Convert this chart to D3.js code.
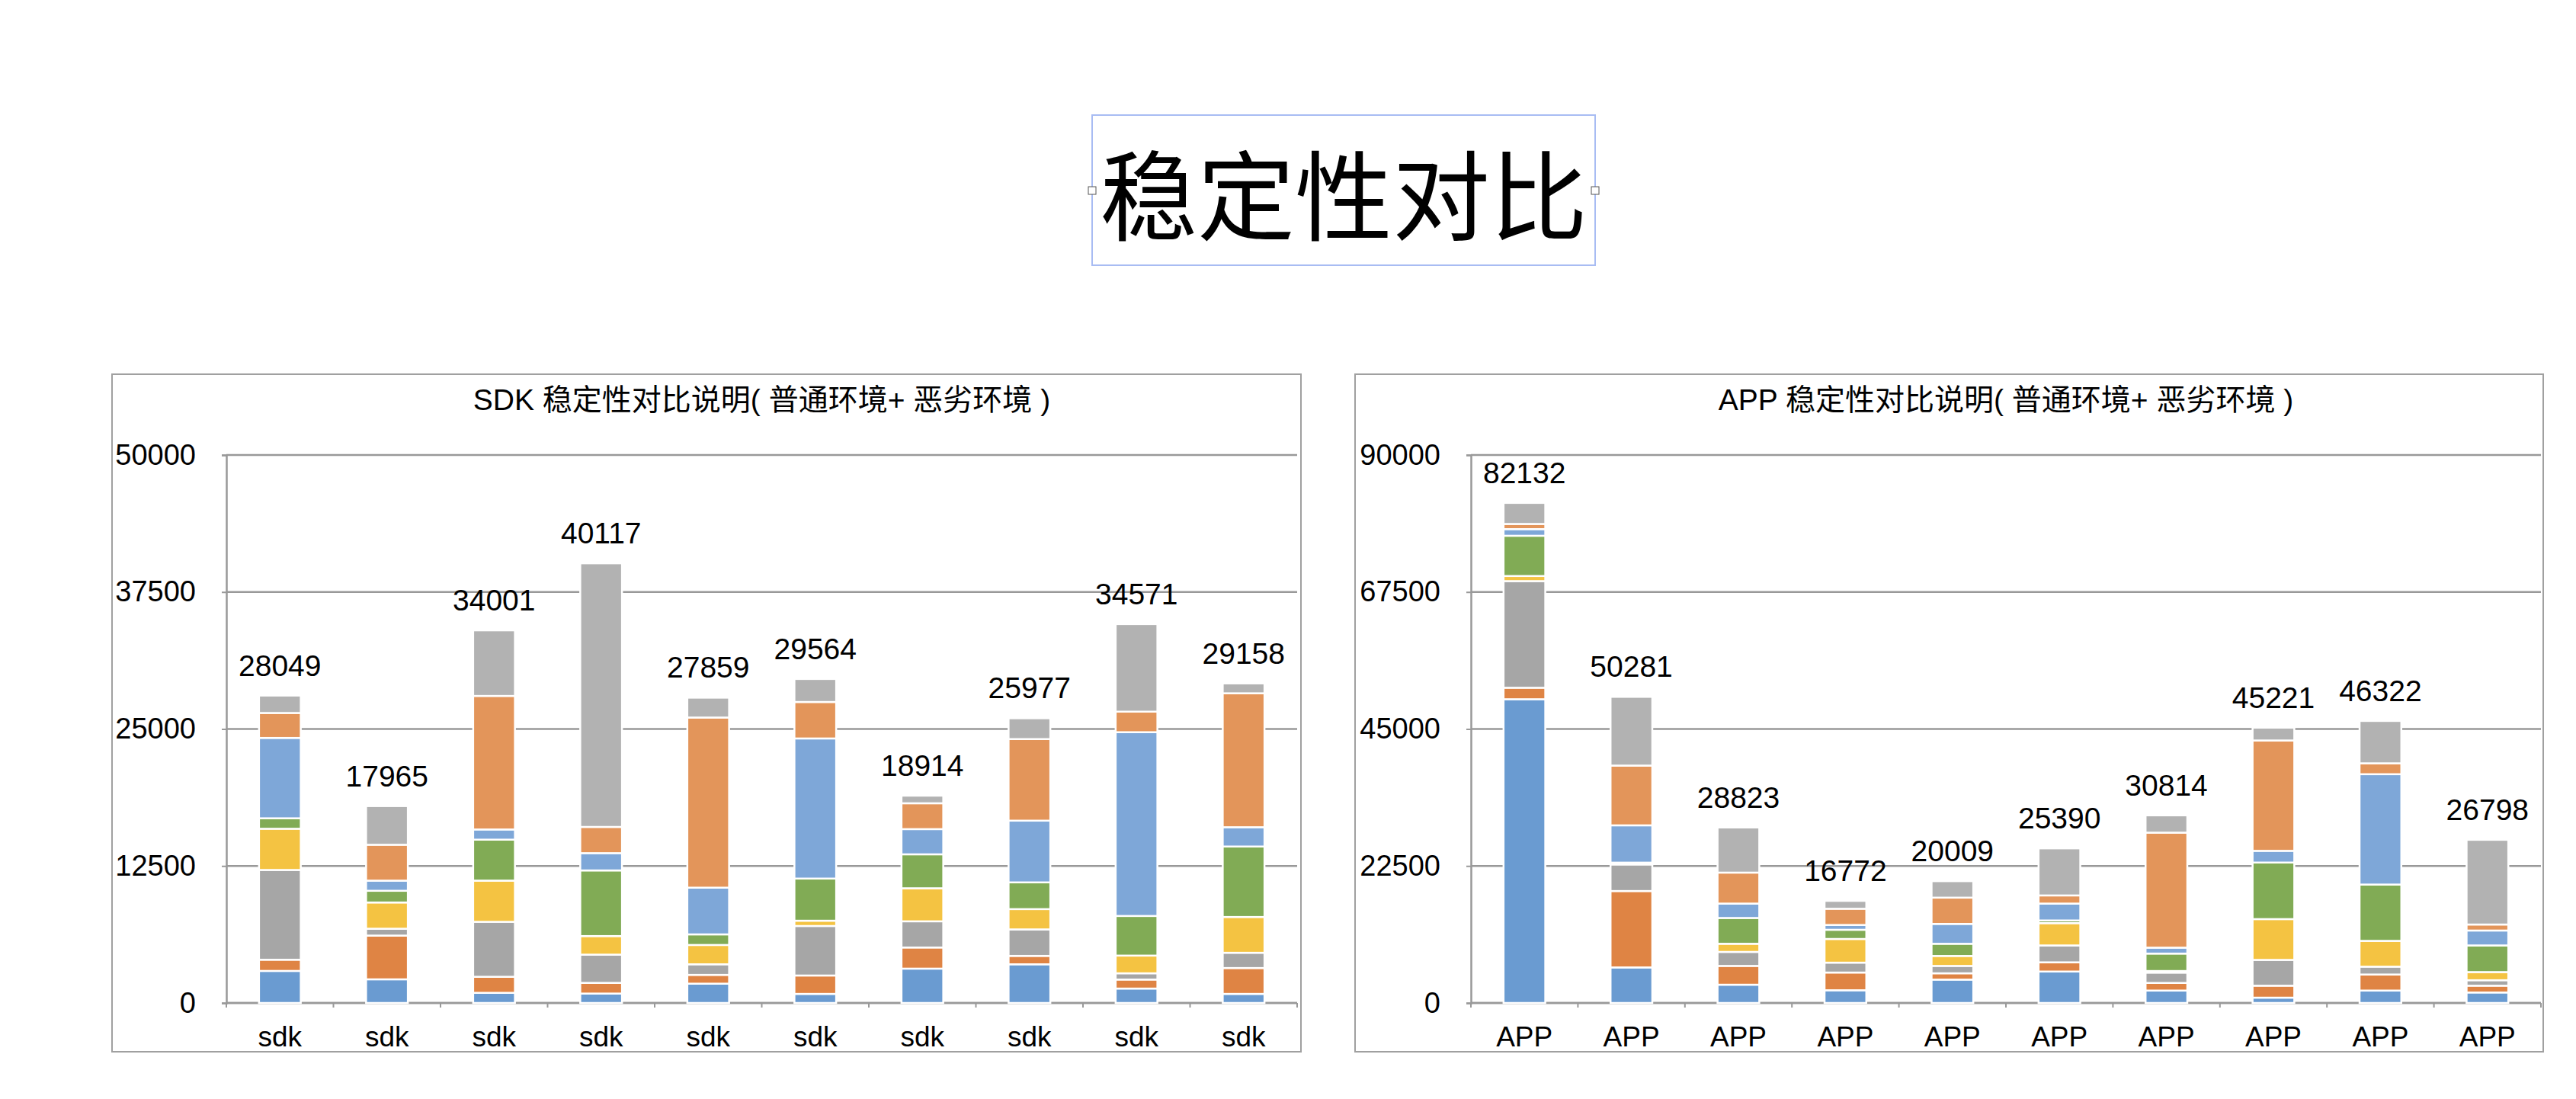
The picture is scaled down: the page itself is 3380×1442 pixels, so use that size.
<!DOCTYPE html>
<html>
<head>
<meta charset="utf-8">
<script src="https://cdn.jsdelivr.net/npm/d3@7"></script>
<style>
  body { margin: 0; background: #fff; }
  text { font-family: "Liberation Sans", "Noto Sans CJK SC", sans-serif; fill: #000; }
</style>
</head>
<body>
<div id="content"></div>
<script>
// ---- data ----
var sdkCategories = ["sdk", "sdk", "sdk", "sdk", "sdk", "sdk", "sdk", "sdk", "sdk", "sdk"];
var sdkTotals = [28049, 17965, 34001, 40117, 27859, 29564, 18914, 25977, 34571, 29158];
// stack order from bottom to top
var sdkSeries1 = [2925, 2159, 926, 859, 1762, 829, 3134, 3530, 1316, 829];
var sdkSeries2 = [1023, 3990, 1464, 975, 801, 1678, 1929, 767, 822, 2360];
var sdkSeries3 = [8190, 627, 5015, 2576, 967, 4519, 2388, 2416, 571, 1393];
var sdkSeries4 = [3760, 2395, 3760, 1696, 1762, 481, 3016, 1852, 1615, 3266];
var sdkSeries5 = [954, 1066, 3738, 5988, 968, 3844, 3098, 2438, 3615, 6428];
var sdkSeries6 = [7334, 926, 928, 1578, 4262, 12785, 2299, 5633, 16769, 1761];
var sdkSeries7 = [2276, 3273, 12186, 2391, 15523, 3329, 2360, 7445, 1873, 12222];
var sdkSeries8 = [1587, 3529, 5984, 24054, 1814, 2099, 690, 1896, 7990, 899];
var sdkTicks = [0, 12500, 25000, 37500, 50000];

var appCategories = ["APP", "APP", "APP", "APP", "APP", "APP", "APP", "APP", "APP", "APP"];
var appTotals = [82132, 50281, 28823, 16772, 20009, 25390, 30814, 45221, 46322, 26798];
var appSeries1 = [49888, 5838, 3000, 2088, 3838, 5163, 2038, 875, 2038, 1725];
var appSeries2 = [1887, 12550, 3088, 2912, 1037, 1512, 1250, 1963, 2637, 1113];
var appSeries3 = [17513, 4362, 2300, 1625, 1213, 2775, 1700, 4237, 1288, 900];
var appSeries4 = [837, 300, 1337, 3888, 1637, 3663, 262, 6700, 4237, 1337];
var appSeries5 = [6613, 0, 4238, 1512, 2000, 437, 2863, 9288, 9250, 4375];
var appSeries6 = [1087, 6125, 2362, 788, 3263, 2775, 975, 1925, 18125, 2450];
var appSeries7 = [850, 9813, 5088, 2662, 4312, 1338, 18887, 18125, 1788, 988];
var appSeries8 = [3457, 11293, 7410, 1297, 2709, 7727, 2839, 2108, 6959, 13910];
var appTicks = [0, 22500, 45000, 67500, 90000];

// colours for the 8 stacked series
var colors = ["#6a9bd1", "#df8444", "#a6a6a6", "#f4c342", "#81ab55", "#7ea7d8", "#e3955a", "#b2b2b2"];

var svg = d3.select("#content").append("svg")
  .attr("width", 3380)
  .attr("height", 1442)
  .style("display", "block");

svg.append("rect").attr("width", 3380).attr("height", 1442).attr("fill", "#fff");

// main title with its selection box
svg.append("rect")
  .attr("x", 1433).attr("y", 151)
  .attr("width", 660).attr("height", 197)
  .attr("fill", "none")
  .attr("stroke", "#a8bcf3")
  .attr("stroke-width", 2);
[1433, 2093].forEach(function(hx) {
  svg.append("rect")
    .attr("x", hx - 5).attr("y", 245)
    .attr("width", 10).attr("height", 10)
    .attr("fill", "#fff")
    .attr("stroke", "#555")
    .attr("stroke-width", 1);
});
svg.append("text")
  .attr("x", 1763).attr("y", 250)
  .attr("text-anchor", "middle")
  .attr("dominant-baseline", "central")
  .style("font-family", "'Noto Sans CJK SC', sans-serif")
  .style("font-size", "128px")
  .text("稳定性对比");

function drawChart(cfg) {
  var g = svg.append("g");
  var top = 597, bottom = 1316;

  // outer frame
  g.append("rect")
    .attr("x", cfg.frameLeft).attr("y", 491)
    .attr("width", cfg.frameRight - cfg.frameLeft).attr("height", 1380 - 491)
    .attr("fill", "none")
    .attr("stroke", "#a0a0a0")
    .attr("stroke-width", 2);

  // chart title is centred over the plot area
  g.append("text")
    .attr("x", (cfg.plotLeft + cfg.plotRight) / 2)
    .attr("y", 524)
    .attr("text-anchor", "middle")
    .attr("dominant-baseline", "central")
    .style("font-size", "39px")
    .text(cfg.title);

  var x = d3.scaleBand()
    .domain(d3.range(cfg.categories.length))
    .range([cfg.plotLeft, cfg.plotRight])
    .paddingInner(0.61)
    .paddingOuter(0.305);
  var y = d3.scaleLinear().domain([0, cfg.ticks[cfg.ticks.length - 1]]).range([bottom, top]);

  // gridlines
  g.selectAll(".grid").data(cfg.ticks).enter().append("line")
    .attr("x1", cfg.plotLeft).attr("x2", cfg.plotRight)
    .attr("y1", function(d) { return y(d); })
    .attr("y2", function(d) { return y(d); })
    .attr("stroke", "#999")
    .attr("stroke-width", 2.5);

  // y axis
  var yAxis = g.append("g")
    .attr("transform", "translate(" + cfg.plotLeft + ",0)")
    .call(d3.axisLeft(y).tickValues(cfg.ticks).tickFormat(d3.format("d")).tickSize(6).tickPadding(34));
  yAxis.select(".domain").attr("stroke", "#999").attr("stroke-width", 2.5);
  yAxis.selectAll(".tick line").attr("stroke", "#999").attr("stroke-width", 2);
  yAxis.selectAll(".tick text")
    .style("font-size", "38px")
    .style("font-family", "'Liberation Sans', sans-serif")
    .attr("fill", "#000");

  // x axis line and ticks between categories
  var step = x.step();
  g.append("line")
    .attr("x1", cfg.plotLeft).attr("x2", cfg.plotRight)
    .attr("y1", bottom).attr("y2", bottom)
    .attr("stroke", "#999").attr("stroke-width", 2.5);
  g.selectAll(".xtick").data(d3.range(cfg.categories.length + 1)).enter().append("line")
    .attr("x1", function(i) { return cfg.plotLeft + i * step; })
    .attr("x2", function(i) { return cfg.plotLeft + i * step; })
    .attr("y1", bottom).attr("y2", bottom + 6)
    .attr("stroke", "#999").attr("stroke-width", 2);

  g.selectAll(".xlabel").data(cfg.categories).enter().append("text")
    .attr("x", function(d, i) { return x(i) + x.bandwidth() / 2; })
    .attr("y", 1373)
    .attr("text-anchor", "middle")
    .style("font-size", "37px")
    .text(function(d) { return d; });

  // stacked bars
  var keys = cfg.series.map(function(s, k) { return "s" + k; });
  var rows = cfg.categories.map(function(c, i) {
    var r = {};
    cfg.series.forEach(function(s, k) { r["s" + k] = s[i]; });
    return r;
  });
  var layers = d3.stack().keys(keys)(rows);

  g.selectAll(".layer").data(layers).enter().append("g")
    .attr("fill", function(d, k) { return colors[k]; })
    .selectAll("rect").data(function(d) { return d; }).enter().append("rect")
    .attr("x", function(d, i) { return x(i); })
    .attr("y", function(d) { return y(d[1]); })
    .attr("width", x.bandwidth())
    .attr("height", function(d) { return Math.max(0, y(d[0]) - y(d[1])); })
    .attr("stroke", "#fff")
    .attr("stroke-width", 2.5);

  // totals above the bars
  g.selectAll(".total").data(cfg.totals).enter().append("text")
    .attr("x", function(d, i) { return x(i) + x.bandwidth() / 2; })
    .attr("y", function(d, i) { return y(layers[layers.length - 1][i][1]) - 26; })
    .attr("text-anchor", "middle")
    .style("font-size", "39px")
    .text(function(d) { return d; });
}

drawChart({
  title: "SDK 稳定性对比说明( 普通环境+ 恶劣环境 )",
  frameLeft: 147, frameRight: 1707,
  plotLeft: 297, plotRight: 1702,
  categories: sdkCategories,
  totals: sdkTotals,
  series: [sdkSeries1, sdkSeries2, sdkSeries3, sdkSeries4, sdkSeries5, sdkSeries6, sdkSeries7, sdkSeries8],
  ticks: sdkTicks
});

drawChart({
  title: "APP 稳定性对比说明( 普通环境+ 恶劣环境 )",
  frameLeft: 1778, frameRight: 3337,
  plotLeft: 1930, plotRight: 3334,
  categories: appCategories,
  totals: appTotals,
  series: [appSeries1, appSeries2, appSeries3, appSeries4, appSeries5, appSeries6, appSeries7, appSeries8],
  ticks: appTicks
});
</script>
</body>
</html>
